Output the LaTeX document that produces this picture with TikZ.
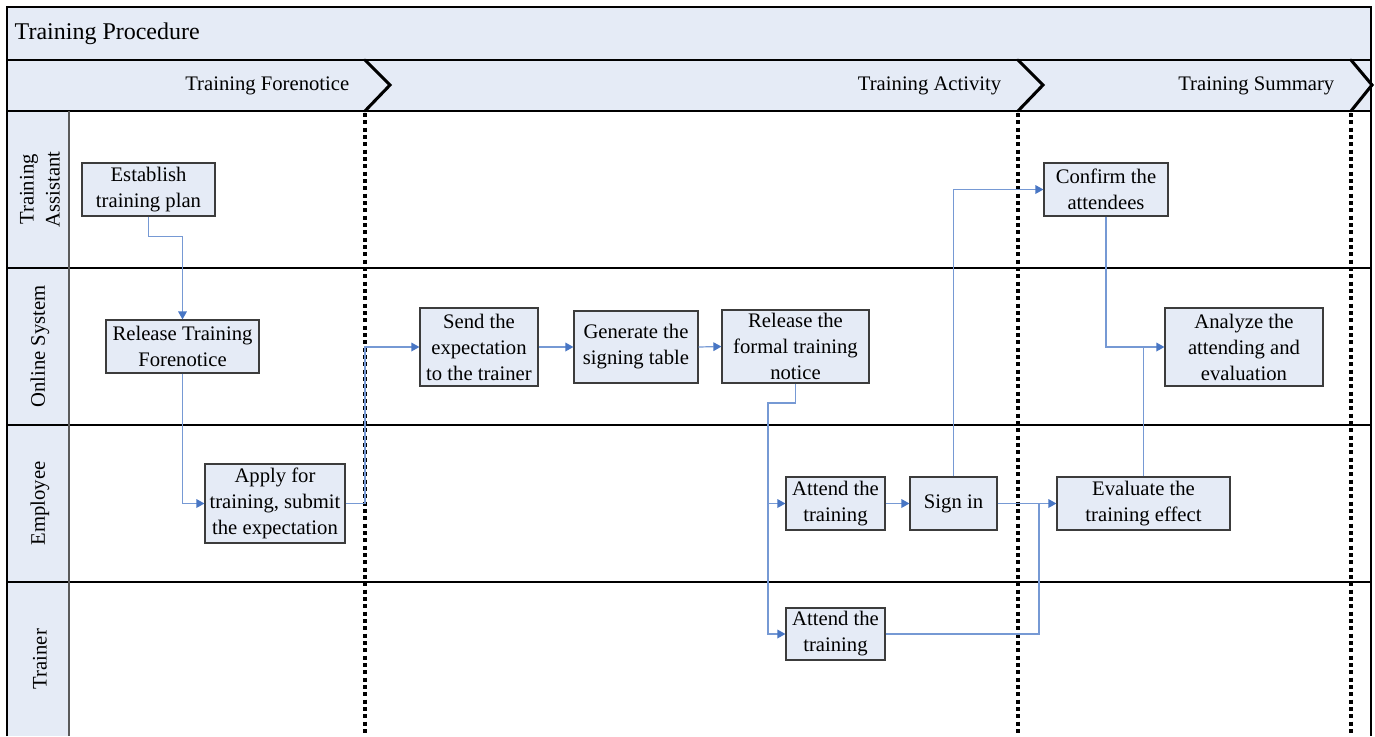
\documentclass[tikz,border=0pt]{standalone}
\usepackage{fontspec}
\setmainfont{Liberation Serif}
\usetikzlibrary{arrows.meta}
\definecolor{bandfill}{RGB}{229,235,246}
\definecolor{flowcol}{RGB}{118,153,212}
\definecolor{tipcol}{RGB}{72,118,196}
\definecolor{boxline}{RGB}{60,60,60}
\tikzset{
  box/.style={draw=boxline, fill=bandfill, line width=0.9pt, inner sep=0pt, align=center,
    font=\fontsize{15.5}{19.5}\selectfont},
  flow/.style={draw=flowcol, line width=0.9pt, -{Triangle[length=6pt,width=6.5pt,fill=tipcol,color=tipcol]}},
  flowline/.style={draw=flowcol, line width=0.9pt},
  phase/.style={anchor=east, font=\fontsize{15.5}{19.5}\selectfont},
  lanelabel/.style={rotate=90, align=center, font=\fontsize{15.5}{19.5}\selectfont},
  sepline/.style={draw=black, line width=0.9pt},
  milestone/.style={draw=black, line width=3pt, dash pattern=on 2.9pt off 2.6pt},
  chev/.style={draw=black, line width=2.3pt, line join=miter, line cap=round}
}
\begin{document}
\begin{tikzpicture}[x=0.75pt,y=-0.75pt]
\useasboundingbox (0,0) rectangle (1375,736);
\fill[white] (0,0) rectangle (1375,736);
% bands
\fill[bandfill] (7,7) rectangle (1371,111);
\fill[bandfill] (7,111) rectangle (69,736);
% frame and separators
\draw[sepline] (7,736) -- (7,7) -- (1371,7) -- (1371,736);
\draw[sepline] (7,60) -- (1371,60);
\draw[sepline] (7,111) -- (1371,111);
\draw[sepline] (7,268) -- (1371,268);
\draw[sepline] (7,425) -- (1371,425);
\draw[sepline] (7,582) -- (1371,582);
\draw[draw={rgb,255:red,90;green,90;blue,90}, line width=1.4pt] (69,111) -- (69,736);
% texts of bands
\node[anchor=west, font=\fontsize{18}{22}\selectfont] (title) at (10,34) {Training Procedure};
\node[phase] (ph1) at (354,86) {Training Forenotice};
\node[phase] (ph2) at (1006,86) {Training Activity};
\node[phase] (ph3) at (1339,86) {Training Summary};
\node[lanelabel] (l1) at (40,189.5) {Training\\Assistant};
\node[lanelabel] (l2) at (40,346.5) {Online System};
\node[lanelabel] (l3) at (40,503.5) {Employee};
\node[lanelabel] (l4) at (40,659) {Trainer};
% milestones
\draw[milestone] (365,113) -- (365,736);
\draw[milestone] (1018,113) -- (1018,736);
\draw[milestone] (1351,113) -- (1351,736);
\draw[chev] (365,60) -- (390,85) -- (365,111);
\draw[chev] (1018,60) -- (1043,85) -- (1018,111);
\draw[chev] (1351,60) -- (1372,85) -- (1351,111);
% boxes
\node[box, minimum width={133*0.75pt}, minimum height={53*0.75pt}] (est) at (148.5,189.5) {Establish\\training plan};
\node[box, minimum width={153*0.75pt}, minimum height={53*0.75pt}] (rel) at (182.5,346.5) {Release Training\\Forenotice};
\node[box, minimum width={140*0.75pt}, minimum height={79*0.75pt}] (apply) at (275,503.5) {Apply for\\training, submit\\the expectation};
\node[box, minimum width={118*0.75pt}, minimum height={78*0.75pt}] (send) at (479,347) {Send the\\expectation\\to the trainer};
\node[box, minimum width={124*0.75pt}, minimum height={72*0.75pt}] (gen) at (636,347) {Generate the\\signing table};
\node[box, minimum width={147*0.75pt}, minimum height={73*0.75pt}] (relf) at (795.5,346.5) {Release the\\formal training\\notice};
\node[box, minimum width={99*0.75pt}, minimum height={53*0.75pt}] (att1) at (835.5,503.5) {Attend the\\training};
\node[box, minimum width={87*0.75pt}, minimum height={53*0.75pt}] (sign) at (953.5,503.5) {Sign in};
\node[box, minimum width={99*0.75pt}, minimum height={52*0.75pt}] (att2) at (835.5,634) {Attend the\\training};
\node[box, minimum width={124*0.75pt}, minimum height={53*0.75pt}] (conf) at (1106,189.5) {Confirm the\\attendees};
\node[box, minimum width={158*0.75pt}, minimum height={78*0.75pt}] (anal) at (1244,347) {Analyze the\\attending and\\evaluation};
\node[box, minimum width={173*0.75pt}, minimum height={53*0.75pt}] (eval) at (1143.5,503.5) {Evaluate the\\training effect};
% helper coordinates
\coordinate (m1) at (365,0);
\coordinate (s1) at (768,403);
\coordinate (j1) at (1039,0);
% connectors
\draw[flow] (est.south) -- ++(0,20) -| (rel.north);
\draw[flow] (rel.south) |- (apply.west);
\draw[flow] (apply.east) -| (m1 |- send.west) -- (send.west);
\draw[flow] (send.east) -- (gen.west);
\draw[flow] (gen.east) -- (relf.west);
\draw[flow] (relf.south) |- (s1) |- (att1.west);
\draw[flow] (s1) |- (att2.west);
\draw[flow] (att1.east) -- (sign.west);
\draw[flow] (sign.north) |- (conf.west);
\draw[flow] (sign.east) -- (eval.west);
\draw[flowline] (att2.east) -| (j1 |- eval.west);
\draw[flow] (conf.south) |- (anal.west);
\draw[flowline] (eval.north) -- (eval.north |- anal.west);
\end{tikzpicture}
\end{document}
